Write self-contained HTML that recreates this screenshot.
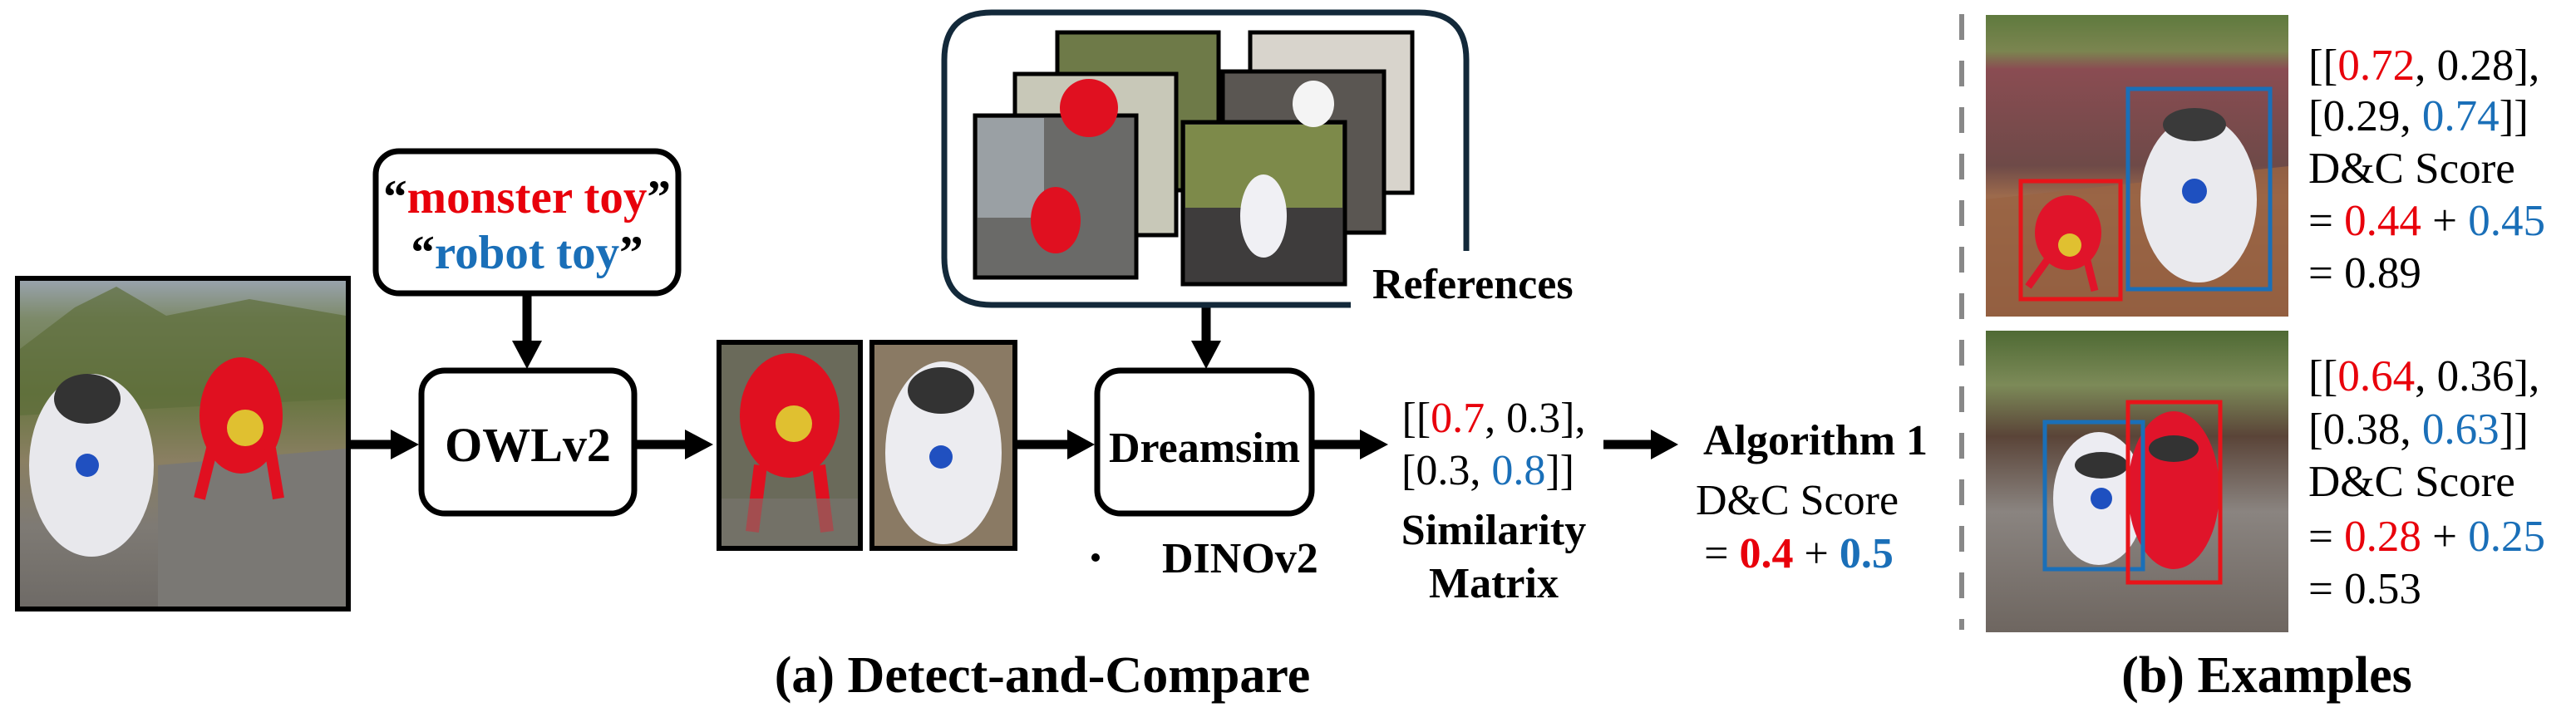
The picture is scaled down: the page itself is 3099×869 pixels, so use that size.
<!DOCTYPE html>
<html><head><meta charset="utf-8"><style>
html,body{margin:0;padding:0;background:#fff;width:3099px;height:869px;overflow:hidden}
svg{display:block;font-family:"Liberation Serif","Times New Roman",Times,serif}
svg text{font-family:"Liberation Serif","Times New Roman",Times,serif}
.b{font-weight:bold}
</style></head><body>
<svg width="3099" height="869" viewBox="0 0 3099 869" xmlns="http://www.w3.org/2000/svg" font-family="Liberation Serif, Times New Roman, serif">
<defs>
<linearGradient id="mainbg" x1="0" y1="0" x2="0" y2="1">
<stop offset="0" stop-color="#9aa4b0"/><stop offset="0.12" stop-color="#7d8a6a"/><stop offset="0.35" stop-color="#66753f"/><stop offset="0.55" stop-color="#8a7f62"/><stop offset="0.75" stop-color="#7e7a74"/><stop offset="1" stop-color="#6e6a66"/>
</linearGradient>
<linearGradient id="ex1" x1="0" y1="0" x2="0" y2="1">
<stop offset="0" stop-color="#5f7a3e"/><stop offset="0.12" stop-color="#7b8550"/><stop offset="0.18" stop-color="#8a4c52"/><stop offset="0.5" stop-color="#6e4a48"/><stop offset="0.6" stop-color="#9c6a4c"/><stop offset="1" stop-color="#7a4c36"/>
</linearGradient>
<linearGradient id="ex2" x1="0" y1="0" x2="0" y2="1">
<stop offset="0" stop-color="#4f6a34"/><stop offset="0.18" stop-color="#7c8a58"/><stop offset="0.35" stop-color="#5a4438"/><stop offset="0.6" stop-color="#8a8480"/><stop offset="1" stop-color="#6e6660"/>
</linearGradient>
</defs>

<!-- main image -->
<rect x="21" y="335" width="398" height="398" fill="url(#mainbg)" stroke="#000" stroke-width="6"/>
<path d="M24 420 L90 370 L140 345 L200 380 L300 360 L416 380 L416 480 L24 500Z" fill="#5e6e3a" opacity="0.7"/>
<path d="M190 560 L416 540 L416 730 L190 730Z" fill="#7a7874"/>
<ellipse cx="110" cy="560" rx="75" ry="110" fill="#e8e8ec"/>
<ellipse cx="105" cy="480" rx="40" ry="30" fill="#333"/>
<circle cx="105" cy="560" r="14" fill="#2050c0"/>
<ellipse cx="290" cy="500" rx="50" ry="70" fill="#e01020"/>
<circle cx="295" cy="515" r="22" fill="#e0c030"/>
<path d="M255 540 L240 600 M325 540 L335 600" stroke="#e01020" stroke-width="14"/>

<!-- text box -->
<rect x="452" y="182" width="364" height="171" rx="28" fill="#fff" stroke="#000" stroke-width="7"/>
<text x="634" y="256" text-anchor="middle" font-size="57" class="b"><tspan fill="#000">“</tspan><tspan fill="#e8000b">monster toy</tspan><tspan fill="#000">”</tspan></text>
<text x="634" y="323" text-anchor="middle" font-size="57" class="b"><tspan fill="#000">“</tspan><tspan fill="#1a6fb8">robot toy</tspan><tspan fill="#000">”</tspan></text>

<!-- OWL box -->
<rect x="507" y="446" width="256" height="172" rx="28" fill="#fff" stroke="#000" stroke-width="7"/>
<text x="635" y="555" text-anchor="middle" font-size="58" class="b">OWLv2</text>

<!-- arrows -->
<g fill="#000" stroke="#000">
<line x1="634" y1="353" x2="634" y2="412" stroke-width="11"/><polygon points="616,410 652,410 634,444" stroke="none"/>
<line x1="419" y1="535" x2="474" y2="535" stroke-width="11"/><polygon points="470,517 470,553 504,535" stroke="none"/>
<line x1="765" y1="535" x2="826" y2="535" stroke-width="11"/><polygon points="824,517 824,553 858,535" stroke="none"/>
<line x1="1221" y1="535" x2="1286" y2="535" stroke-width="11"/><polygon points="1284,517 1284,553 1317,535" stroke="none"/>
<line x1="1581" y1="535" x2="1638" y2="535" stroke-width="11"/><polygon points="1636,517 1636,553 1670,535" stroke="none"/>
<line x1="1929" y1="535" x2="1988" y2="535" stroke-width="11"/><polygon points="1986,517 1986,553 2019,535" stroke="none"/>
<line x1="1451" y1="370" x2="1451" y2="412" stroke-width="11"/><polygon points="1433,410 1469,410 1451,444" stroke="none"/>
</g>

<!-- crops -->
<rect x="865" y="412" width="170" height="248" fill="#6a6a5a" stroke="#000" stroke-width="6"/>
<ellipse cx="950" cy="500" rx="60" ry="75" fill="#e01020"/>
<circle cx="955" cy="510" r="22" fill="#e0c030"/>
<path d="M915 560 L905 640 M985 560 L995 640" stroke="#e01020" stroke-width="16"/>
<rect x="868" y="600" width="164" height="57" fill="#7a7670" opacity="0.6"/>
<rect x="1049" y="412" width="172" height="248" fill="#8a7a64" stroke="#000" stroke-width="6"/>
<ellipse cx="1135" cy="545" rx="70" ry="110" fill="#ececf0"/>
<ellipse cx="1132" cy="470" rx="40" ry="28" fill="#333"/>
<circle cx="1132" cy="550" r="14" fill="#2050c0"/>

<!-- references box -->
<path d="M1625 367 L1193 367 Q1136 367 1136 310 L1136 72 Q1136 15 1193 15 L1707 15 Q1764 15 1764 72 L1764 302" fill="none" stroke="#13293a" stroke-width="7"/>
<g stroke="#000" stroke-width="5">
<rect x="1272" y="39" width="194" height="190" fill="#6e7a48"/>
<rect x="1504" y="39" width="195" height="193" fill="#d8d4cc"/>
<rect x="1221" y="89" width="194" height="194" fill="#c8c8b8"/>
<rect x="1471" y="86" width="194" height="194" fill="#5a5652"/>
<rect x="1173" y="139" width="194" height="195" fill="#6a6a68"/>
<rect x="1423" y="147" width="195" height="195" fill="#3e3c3c"/>
</g>
<rect x="1176" y="142" width="80" height="120" fill="#9aa0a4"/>
<ellipse cx="1270" cy="265" rx="30" ry="40" fill="#e01020"/>
<ellipse cx="1310" cy="130" rx="35" ry="35" fill="#e01020"/>
<rect x="1426" y="150" width="189" height="100" fill="#7d8a4a"/>
<ellipse cx="1520" cy="260" rx="28" ry="50" fill="#f0f0f4"/>
<ellipse cx="1580" cy="125" rx="25" ry="28" fill="#f4f4f4"/>
<text x="1651" y="359" font-size="52" class="b">References</text>

<!-- Dreamsim -->
<rect x="1320" y="446" width="258" height="172" rx="28" fill="#fff" stroke="#000" stroke-width="7"/>
<text x="1449" y="556" text-anchor="middle" font-size="52" class="b">Dreamsim</text>
<circle cx="1318" cy="671" r="5" fill="#000"/>
<text x="1398" y="689" font-size="52" class="b">DINOv2</text>

<!-- matrix -->
<text x="1797" y="520" text-anchor="middle" font-size="52">[[<tspan fill="#e8000b">0.7</tspan>, 0.3],</text>
<text x="1790" y="583" text-anchor="middle" font-size="52">[0.3, <tspan fill="#1a6fb8">0.8</tspan>]]</text>
<text x="1797" y="655" text-anchor="middle" font-size="52" class="b">Similarity</text>
<text x="1797" y="719" text-anchor="middle" font-size="52" class="b">Matrix</text>

<!-- algorithm -->
<text x="2184" y="547" text-anchor="middle" font-size="52" class="b">Algorithm 1</text>
<text x="2162" y="619" text-anchor="middle" font-size="52">D&amp;C Score</text>
<text x="2164" y="683" text-anchor="middle" font-size="52">= <tspan fill="#e8000b" font-weight="bold">0.4</tspan> + <tspan fill="#1a6fb8" font-weight="bold">0.5</tspan></text>

<!-- dashed divider -->
<line x1="2360" y1="17" x2="2360" y2="758" stroke="#888" stroke-width="6" stroke-dasharray="31,25"/>

<!-- example 1 -->
<rect x="2389" y="18" width="364" height="363" fill="url(#ex1)"/>
<path d="M2389 240 L2753 200 L2753 381 L2389 381Z" fill="#9a6444" opacity="0.8"/>
<ellipse cx="2488" cy="280" rx="40" ry="45" fill="#e0142a"/>
<circle cx="2490" cy="295" r="14" fill="#e0c030"/>
<path d="M2465 310 L2440 345 M2510 310 L2520 350" stroke="#e0142a" stroke-width="9"/>
<ellipse cx="2645" cy="240" rx="70" ry="100" fill="#eaeaee"/>
<ellipse cx="2640" cy="150" rx="38" ry="20" fill="#3a3a3a"/>
<circle cx="2640" cy="230" r="15" fill="#1e50c0"/>
<rect x="2431" y="218" width="120" height="142" fill="none" stroke="#e8141a" stroke-width="5"/>
<rect x="2560" y="107" width="171" height="241" fill="none" stroke="#1a6fb8" stroke-width="5"/>

<!-- example 2 -->
<rect x="2389" y="398" width="364" height="363" fill="url(#ex2)"/>
<ellipse cx="2525" cy="600" rx="55" ry="80" fill="#ececf2"/>
<ellipse cx="2528" cy="560" rx="32" ry="16" fill="#333"/>
<circle cx="2528" cy="600" r="13" fill="#1e50c0"/>
<ellipse cx="2615" cy="590" rx="55" ry="95" fill="#e0142a"/>
<ellipse cx="2615" cy="540" rx="30" ry="16" fill="#333"/>
<rect x="2460" y="508" width="118" height="177" fill="none" stroke="#1a6fb8" stroke-width="5"/>
<rect x="2560" y="484" width="111" height="217" fill="none" stroke="#e8141a" stroke-width="5"/>

<!-- example texts -->
<g font-size="53">
<text x="2777" y="96">[[<tspan fill="#e8000b">0.72</tspan>, 0.28],</text>
<text x="2777" y="157">[0.29, <tspan fill="#1a6fb8">0.74</tspan>]]</text>
<text x="2777" y="220">D&amp;C Score</text>
<text x="2777" y="283">= <tspan fill="#e8000b">0.44</tspan> + <tspan fill="#1a6fb8">0.45</tspan></text>
<text x="2777" y="346">= 0.89</text>
<text x="2777" y="470">[[<tspan fill="#e8000b">0.64</tspan>, 0.36],</text>
<text x="2777" y="534">[0.38, <tspan fill="#1a6fb8">0.63</tspan>]]</text>
<text x="2777" y="597">D&amp;C Score</text>
<text x="2777" y="663">= <tspan fill="#e8000b">0.28</tspan> + <tspan fill="#1a6fb8">0.25</tspan></text>
<text x="2777" y="726">= 0.53</text>
</g>

<!-- captions -->
<text x="1254" y="833" text-anchor="middle" font-size="62" class="b">(a) Detect-and-Compare</text>
<text x="2727" y="833" text-anchor="middle" font-size="62" class="b">(b) Examples</text>
</svg>
</body></html>
